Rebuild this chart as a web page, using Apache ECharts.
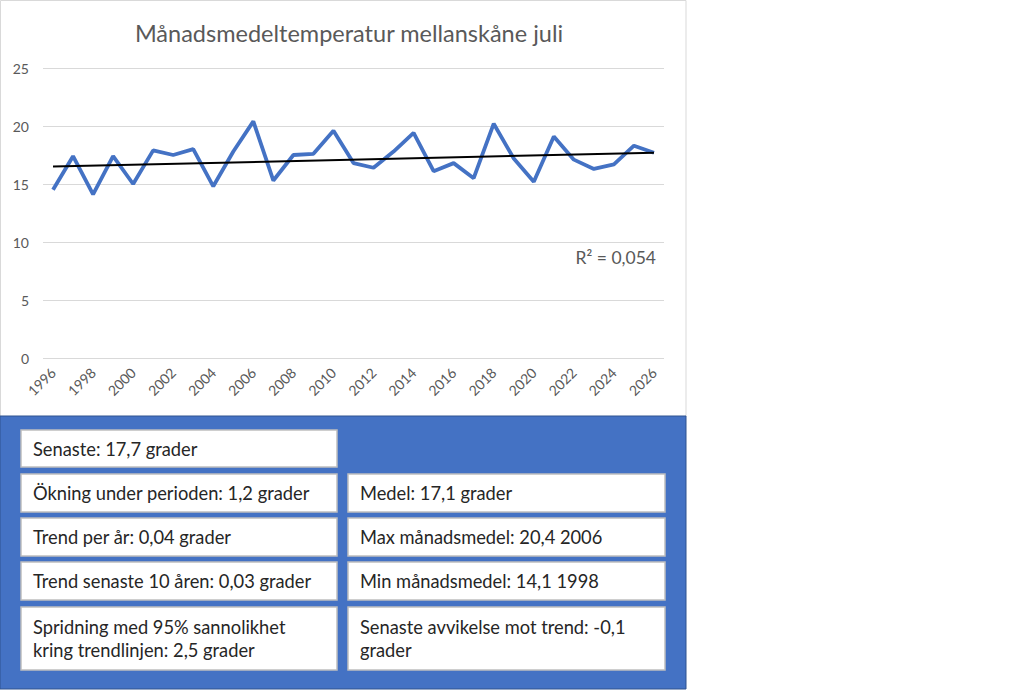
<!DOCTYPE html>
<html>
<head>
<meta charset="utf-8">
<script src="https://cdn.jsdelivr.net/npm/echarts@6/dist/echarts.min.js"></script>
<style>
html,body{margin:0;padding:0;background:#fff;}
#c{width:1024px;height:696px;}
</style>
</head>
<body>
<div id="c"></div>
<script>
const years = ['1996','1997','1998','1999','2000','2001','2002','2003','2004','2005','2006','2007','2008','2009','2010','2011','2012','2013','2014','2015','2016','2017','2018','2019','2020','2021','2022','2023','2024','2025','2026'];
const temps = [14.5,17.4,14.1,17.4,15.0,17.9,17.5,18.0,14.8,17.8,20.4,15.3,17.5,17.6,19.6,16.8,16.4,17.8,19.4,16.1,16.8,15.5,20.2,17.2,15.2,19.1,17.1,16.3,16.7,18.3,17.7];
const trendEnds = [16.5, 17.7];
const yTicks = [0,5,10,15,20,25];
const titleText = 'Månadsmedeltemperatur mellanskåne juli';
const r2Text = 'R² = 0,054';
const leftBoxes = ['Senaste: 17,7 grader','Ökning under perioden: 1,2 grader','Trend per år: 0,04 grader','Trend senaste 10 åren: 0,03 grader','Spridning med 95% sannolikhet\nkring trendlinjen: 2,5 grader'];
const rightBoxes = [null,'Medel: 17,1 grader','Max månadsmedel: 20,4 2006','Min månadsmedel: 14,1 1998','Senaste avvikelse mot trend: -0,1\ngrader'];

const trendData = years.map((y,i)=> i===0 ? trendEnds[0] : (i===years.length-1 ? trendEnds[1] : null));

const FAM = 'Lato, "Noto Sans", sans-serif';
const rows = [[430,37],[474,38],[518,38],[562,38],[607,63]];
const font = '18.3px ' + FAM;
const graphics = [];
graphics.push({type:'rect', z:-10, shape:{x:0.5,y:0.5,width:685.5,height:416}, style:{fill:'#fff', stroke:'#d9d9d9', lineWidth:1}});
graphics.push({type:'rect', z:1, shape:{x:0,y:416,width:686,height:273}, style:{fill:'#4472C4', stroke:'#2F528F', lineWidth:1}});
function addBox(x, w, row, txt){
  graphics.push({type:'rect', z:2, shape:{x:x,y:rows[row][0],width:w,height:rows[row][1]}, style:{fill:'#fff', stroke:'#bfbfbf', lineWidth:1.5}});
  const lines = txt.split('\n');
  lines.forEach((ln, k)=>{
    const cy = lines.length===1 ? rows[row][0]+rows[row][1]/2 : rows[row][0]+20+k*23;
    graphics.push({type:'text', z:3, x:x+12, y:cy, style:{text:ln, font:font, fill:'#262626', textVerticalAlign:'middle', verticalAlign:'middle'}});
  });
}
leftBoxes.forEach((t,i)=>{ if(t) addBox(21,316,i,t); });
rightBoxes.forEach((t,i)=>{ if(t) addBox(348,317,i,t); });
graphics.push({type:'text', z:3, x:656, y:257, style:{text:r2Text, font:'17.5px ' + FAM, fill:'#595959', textAlign:'right', align:'right', textVerticalAlign:'middle', verticalAlign:'middle'}});

const chart = echarts.init(document.getElementById('c'), null, {renderer:'svg'});
chart.setOption({
  animation:false,
  backgroundColor:'#fff',
  title:{text:titleText, left:344, top:16, textAlign:'center', textStyle:{fontFamily:FAM, fontSize:23.5, fontWeight:'normal', color:'#595959'}},
  grid:{left:43, right:360, top:68, bottom:338, containLabel:false},
  xAxis:{type:'category', data:years, boundaryGap:true,
    axisLine:{show:false}, axisTick:{show:false},
    axisLabel:{interval:1, rotate:45, fontSize:14, color:'#595959', fontFamily:FAM, margin:12}},
  yAxis:{type:'value', min:yTicks[0], max:yTicks[yTicks.length-1], interval:5,
    axisLine:{show:false}, axisTick:{show:false},
    splitLine:{lineStyle:{color:'#d9d9d9', width:1}},
    axisLabel:{fontSize:14, color:'#595959', fontFamily:FAM, margin:14}},
  series:[
    {type:'line', data:temps, symbol:'none', lineStyle:{color:'#4472C4', width:3.8}, z:2},
    {type:'line', data:trendData, connectNulls:true, symbol:'none', lineStyle:{color:'#000', width:2}, z:3}
  ],
  graphic:graphics
});
</script>
</body>
</html>
